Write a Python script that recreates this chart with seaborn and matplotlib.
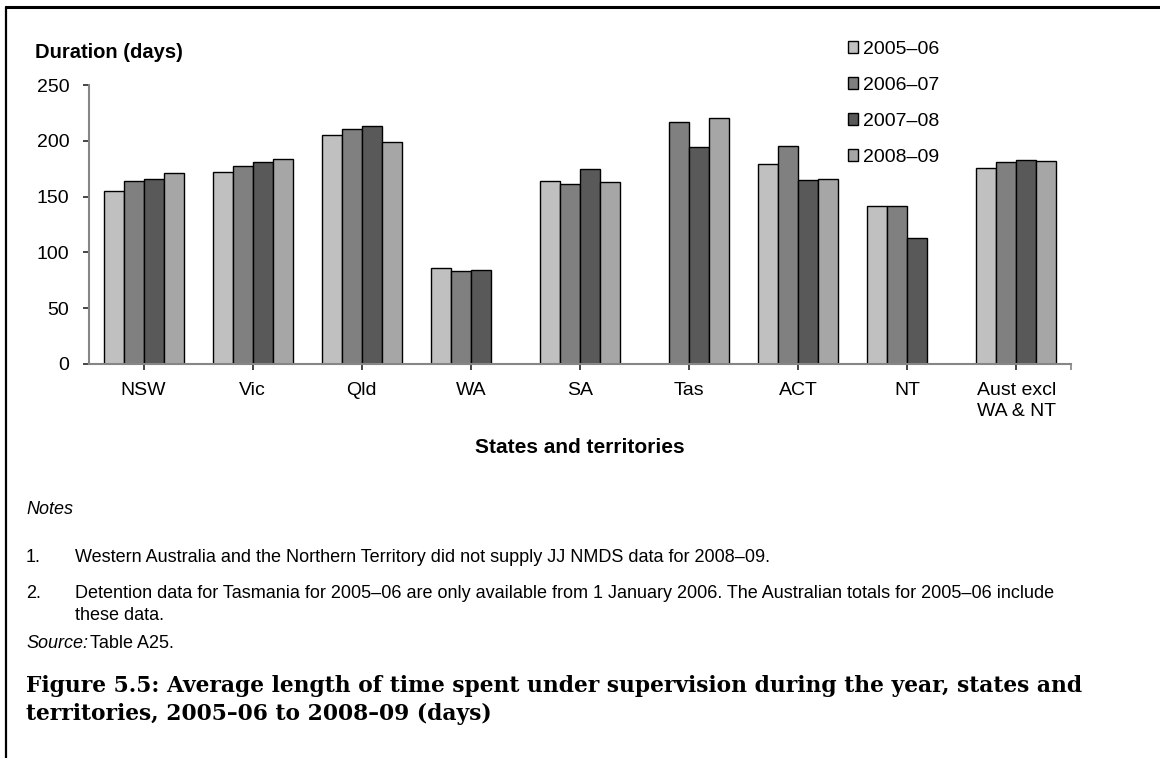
import pandas as pd
import matplotlib
matplotlib.use("Agg")
import matplotlib.pyplot as plt
import seaborn as sns
import numpy as np

# Data (days); NaN where not supplied
states = ["NSW", "Vic", "Qld", "WA", "SA", "Tas", "ACT", "NT", "Aust excl\nWA & NT"]
years = ["2005\u201306", "2006\u201307", "2007\u201308", "2008\u201309"]
y2005_06 = [155, 172, 205, 86, 164, np.nan, 179, 142, 176]
y2006_07 = [164, 177, 211, 83, 161, 217, 195, 142, 181]
y2007_08 = [166, 181, 213, 84, 175, 194, 165, 113, 183]
y2008_09 = [171, 184, 199, np.nan, 163, 220, 166, np.nan, 182]
colours = ["#c0c0c0", "#808080", "#595959", "#a6a6a6"]

df = pd.DataFrame({
    "state": states * 4,
    "year": np.repeat(years, len(states)),
    "days": y2005_06 + y2006_07 + y2007_08 + y2008_09,
})

sns.set_theme(style="white")
plt.rcParams["font.family"] = ["Liberation Sans", "DejaVu Sans"]
plt.rcParams["text.color"] = "black"

fig = plt.figure(figsize=(11.6, 7.58), dpi=100)
ax = fig.add_axes([89 / 1160, 1 - 364 / 758, 982 / 1160, 279 / 758])

sns.barplot(data=df, x="state", y="days", hue="year", order=states, hue_order=years,
            palette=colours, width=0.733, edgecolor="black", linewidth=1.0,
            saturation=1, ax=ax, legend=False)

ax.set_xlim(-0.5, 8.5)
ax.set_ylim(0, 250)
ax.set_yticks(range(0, 251, 50))
ax.set_xticks(range(len(states)))
ax.set_xticklabels(states, fontsize=14, color="black", linespacing=1.3)
ax.tick_params(axis="y", labelsize=14, labelcolor="black", length=4.3, width=1.2,
               direction="out", left=True, pad=10)
ax.tick_params(axis="x", length=4.3, width=1.2, direction="out", bottom=True, pad=9)
for t in ax.get_yticklines() + ax.get_xticklines():
    t.set_color("#868686")
ax.set_xticks([8.5], minor=True)
ax.tick_params(axis="x", which="minor", length=4.3, width=1.2, color="#868686", bottom=True)
for s in ["top", "right"]:
    ax.spines[s].set_visible(False)
for s in ["left", "bottom"]:
    ax.spines[s].set_color("#868686")
    ax.spines[s].set_linewidth(1.5)
ax.set_xlabel("")
ax.set_ylabel("")

fig.text(35 / 1160, 1 - 52 / 758, "Duration (days)", fontsize=14.5, fontweight="bold",
         va="center", ha="left")
fig.text(580 / 1160, 1 - 447 / 758, "States and territories", fontsize=15,
         fontweight="bold", va="center", ha="center")

handles = [plt.Rectangle((0, 0), 1, 1, facecolor=c, edgecolor="black", linewidth=1.0)
           for c in colours]
fig.legend(handles, years, loc="upper left", bbox_to_anchor=(840 / 1160, 1 - 33 / 758),
           frameon=False, fontsize=14, handlelength=0.55, handleheight=0.55,
           handletextpad=0.25, labelspacing=0.98, borderaxespad=0)

# notes and caption
note_fs = 13
fig.text(26 / 1160, 1 - 510 / 758, "Notes", fontsize=note_fs, style="italic", va="center")
fig.text(26 / 1160, 1 - 557 / 758, "1.", fontsize=note_fs, va="center")
fig.text(75 / 1160, 1 - 557 / 758,
         "Western Australia and the Northern Territory did not supply JJ NMDS data for 2008\u201309.",
         fontsize=note_fs, va="center")
fig.text(26 / 1160, 1 - 594 / 758, "2.", fontsize=note_fs, va="center")
fig.text(75 / 1160, 1 - 594 / 758,
         "Detention data for Tasmania for 2005\u201306 are only available from 1 January 2006. "
         "The Australian totals for 2005\u201306 include",
         fontsize=note_fs, va="center")
fig.text(75 / 1160, 1 - 616 / 758, "these data.", fontsize=note_fs, va="center")
fig.text(26 / 1160, 1 - 643 / 758, "Source:", fontsize=note_fs, style="italic", va="center")
fig.text(90 / 1160, 1 - 643 / 758, "Table A25.", fontsize=note_fs, va="center")
fig.text(26 / 1160, 1 - 686 / 758,
         "Figure 5.5: Average length of time spent under supervision during the year, states and",
         fontsize=15.7, fontweight="bold", family="DejaVu Serif", va="center")
fig.text(26 / 1160, 1 - 714 / 758, "territories, 2005\u201306 to 2008\u201309 (days)",
         fontsize=15.7, fontweight="bold", family="DejaVu Serif", va="center")

# page frame lines
fig.add_artist(plt.Line2D([5.5 / 1160, 1], [1 - 7 / 758, 1 - 7 / 758], color="black", lw=2.2))
fig.add_artist(plt.Line2D([5.5 / 1160, 5.5 / 1160], [0, 1 - 7 / 758], color="black", lw=1.6))

fig.savefig("out.png", dpi=100, facecolor="white")
